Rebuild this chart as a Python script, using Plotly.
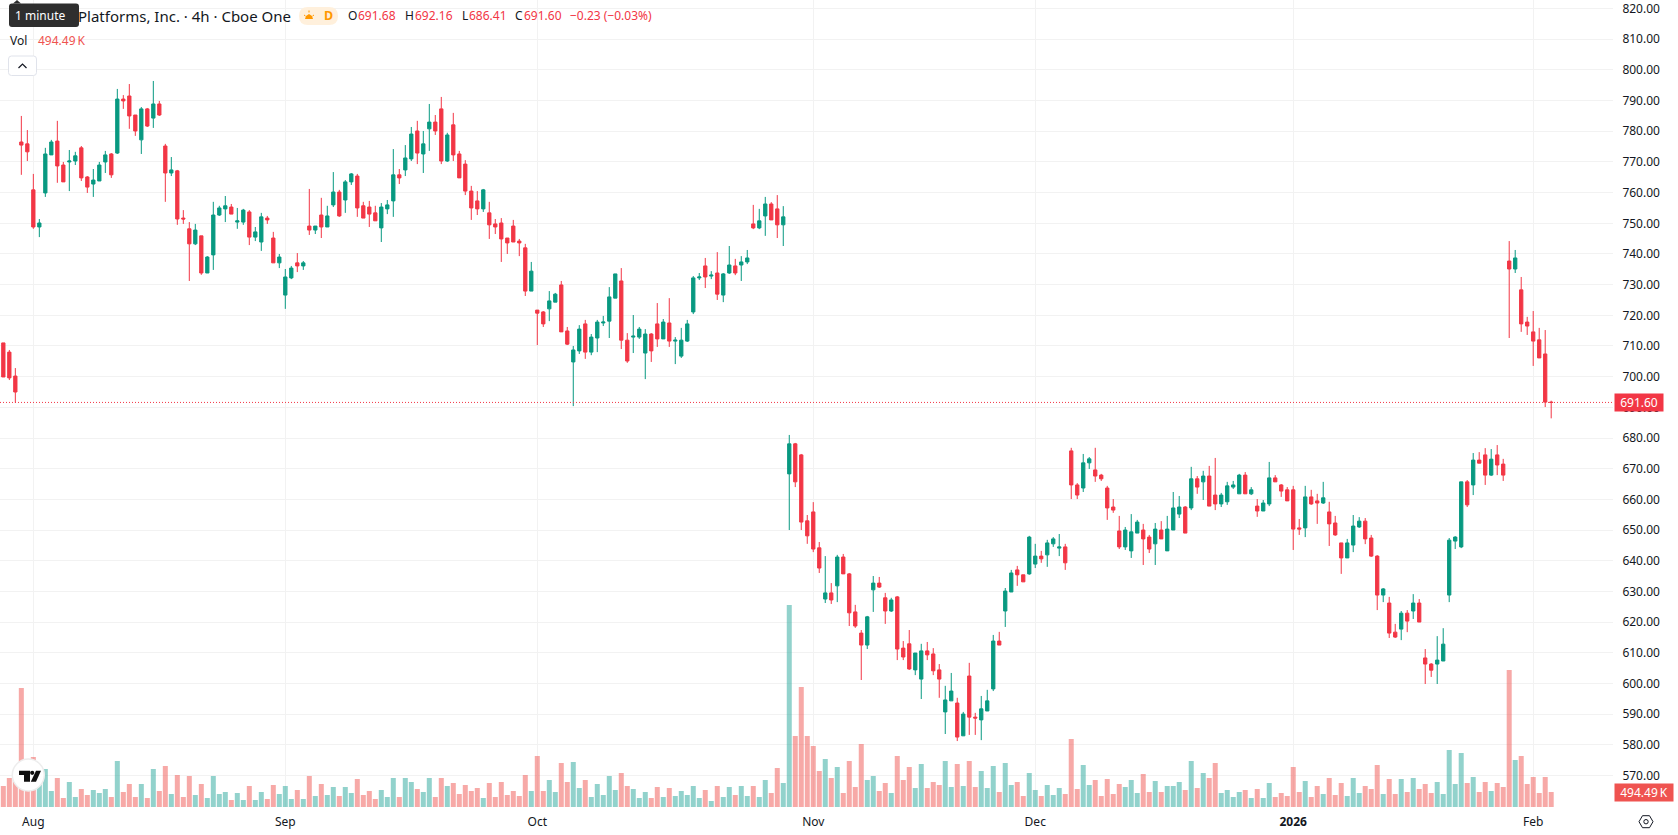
import plotly.graph_objects as go

# Candle direction per session block: R = falling bar, G = rising bar
SIDES = "".join([
    "RRRRRRGGGR", "RGGRRGGGRG", "RRRGRGRRGR", "RRGRGGGGRG", "GRGGRRGGGR",
    "GRGRGGRGGR", "RRRGGGRGGR", "GGRRGRRRRR", "GRRRRRRRGR", "RGGRRGGRGG",
    "GGGRRGGGRR", "GRGGGGGRGR", "GGRGGRGGRR", "GGRRRRRGRG", "RRRRGGRRGR",
    "RRGGRRRGGR", "GRRGGGRGGR", "RGGRGGGRRR", "GGRRRRRGGG", "RRGRGGGRGR",
    "GRRGGGGRGR", "GGRRRRRGRR", "GRRRGGGRRR", "GRRGRGRRRG", "GGGGRGRRGR",
    "RRGRRRRRR",
])

HIGHS = [
    711.0, 708.7, 702.8, 785.0, 780.4, 766.1, 751.4, 774.6, 777.2, 783.4,
    770.0, 773.9, 773.3, 775.2, 765.4, 767.7, 770.0, 773.6, 772.9, 793.8,
    791.8, 795.4, 785.3, 787.9, 787.6, 796.4, 789.9, 775.9, 771.6, 767.4,
    754.3, 750.4, 749.8, 745.9, 739.3, 757.0, 755.7, 758.9, 756.3, 755.0,
    754.7, 754.3, 748.8, 753.4, 752.4, 747.2, 740.0, 735.1, 736.1, 740.3,
    737.7, 761.2, 749.1, 758.3, 755.7, 766.7, 760.9, 764.1, 766.4, 766.1,
    757.0, 757.3, 755.7, 756.6, 757.6, 774.2, 767.7, 775.5, 781.4, 783.4,
    780.1, 788.9, 785.3, 791.2, 779.5, 786.0, 773.6, 770.6, 762.2, 760.5,
    761.2, 757.0, 751.4, 751.7, 745.2, 751.1, 744.9, 743.3, 737.4, 721.7,
    721.4, 727.9, 727.3, 731.2, 716.2, 710.0, 716.8, 718.5, 713.9, 718.5,
    719.8, 729.2, 733.5, 735.4, 714.2, 720.1, 716.2, 715.5, 714.2, 724.0,
    718.8, 725.6, 712.9, 715.9, 718.5, 732.8, 733.8, 738.7, 734.4, 740.6,
    733.8, 742.6, 738.4, 739.3, 741.3, 756.0, 754.7, 758.6, 756.9, 759.2,
    755.6, 681.0, 678.4, 674.8, 654.9, 659.1, 646.1, 641.5, 632.7, 641.9,
    642.2, 636.0, 625.6, 617.4, 622.0, 635.0, 634.7, 629.5, 627.9, 628.5,
    613.8, 617.4, 609.9, 612.9, 613.5, 611.5, 606.3, 599.2, 603.4, 595.3,
    590.7, 606.7, 590.4, 595.9, 597.9, 615.8, 616.8, 631.1, 637.0, 638.3,
    635.4, 648.1, 645.5, 643.2, 646.8, 647.7, 648.7, 645.5, 676.8, 665.3,
    674.8, 673.8, 676.8, 668.3, 664.4, 660.1, 654.6, 651.0, 655.2, 653.3,
    652.0, 648.4, 652.3, 652.9, 654.6, 662.4, 661.1, 657.8, 670.6, 667.6,
    669.3, 670.9, 673.5, 662.1, 665.7, 666.0, 668.3, 668.9, 664.0, 660.1,
    659.8, 672.2, 667.9, 665.0, 664.0, 664.4, 653.6, 664.4, 663.1, 661.8,
    665.7, 659.2, 654.6, 645.8, 647.1, 654.9, 654.2, 653.9, 648.4, 641.8,
    631.1, 628.2, 619.4, 623.6, 623.9, 629.1, 627.5, 611.2, 606.6, 615.4,
    618.0, 647.4, 648.0, 665.7, 666.3, 675.1, 675.4, 676.7, 676.4, 677.7,
    673.2, 744.2, 741.3, 732.5, 719.5, 721.4, 715.9, 715.2, 692.16,
]

# Upper edge of each candle body
BODY_TOPS = [
    711.0, 708.0, 700.2, 776.5, 775.9, 760.9, 750.1, 772.6, 776.5, 776.8,
    769.0, 770.3, 772.0, 774.6, 765.1, 764.1, 769.0, 772.3, 772.6, 790.5,
    790.5, 791.5, 785.3, 787.3, 787.3, 788.9, 788.9, 775.2, 767.4, 767.1,
    751.7, 748.2, 747.8, 745.9, 739.0, 752.7, 755.0, 755.7, 755.3, 750.8,
    754.3, 753.7, 747.2, 752.1, 751.7, 745.2, 739.0, 732.5, 735.4, 737.1,
    737.1, 749.1, 749.1, 752.7, 752.4, 760.2, 760.2, 763.5, 766.1, 765.4,
    755.7, 755.3, 753.4, 755.3, 756.0, 765.8, 765.8, 771.3, 779.1, 780.1,
    775.9, 783.0, 783.0, 787.3, 778.8, 782.1, 772.6, 769.3, 760.5, 757.3,
    760.9, 753.4, 749.8, 750.1, 745.2, 749.1, 744.2, 742.0, 734.4, 721.7,
    721.1, 724.7, 726.9, 729.9, 714.9, 708.7, 715.5, 717.2, 712.9, 717.8,
    717.8, 726.0, 733.5, 731.2, 711.9, 713.2, 715.5, 713.9, 713.9, 717.2,
    717.8, 717.5, 711.9, 711.9, 717.2, 732.2, 732.5, 736.1, 733.1, 733.8,
    733.5, 736.4, 736.1, 737.4, 738.7, 749.8, 750.8, 756.3, 756.3, 754.7,
    752.1, 678.1, 678.1, 674.5, 653.0, 655.9, 644.2, 629.5, 629.5, 641.2,
    641.2, 635.7, 623.3, 616.4, 621.7, 632.7, 632.7, 627.9, 627.2, 628.2,
    611.5, 612.9, 609.9, 610.6, 610.6, 609.6, 604.4, 594.6, 597.5, 593.6,
    590.0, 602.4, 589.0, 591.7, 594.3, 613.8, 613.8, 630.1, 636.0, 637.0,
    635.4, 647.7, 641.5, 641.5, 645.8, 647.1, 644.5, 644.5, 675.8, 664.7,
    671.9, 673.2, 669.6, 667.9, 663.7, 657.5, 649.7, 650.0, 649.4, 652.6,
    650.0, 647.7, 650.3, 650.0, 650.3, 657.2, 657.5, 657.5, 666.7, 666.7,
    667.6, 667.6, 661.4, 661.4, 664.4, 664.7, 667.9, 667.9, 663.1, 657.8,
    658.8, 667.0, 667.0, 664.7, 663.1, 663.1, 650.7, 660.8, 660.8, 659.5,
    660.5, 655.9, 652.3, 645.8, 645.8, 651.3, 652.9, 652.9, 647.4, 641.5,
    630.8, 626.2, 616.7, 622.9, 622.9, 626.2, 626.2, 608.3, 606.3, 607.6,
    612.8, 646.7, 647.7, 665.7, 665.7, 672.8, 672.8, 674.5, 673.1, 674.5,
    671.5, 737.7, 738.7, 728.3, 717.8, 714.6, 712.0, 707.4, 691.68,
]

# Lower edge of each candle body
BODY_BOTTOMS = [
    699.9, 699.6, 695.0, 775.5, 773.3, 748.8, 748.8, 759.9, 772.3, 768.7,
    763.5, 770.0, 770.3, 764.8, 761.8, 762.8, 763.8, 770.0, 765.8, 772.9,
    789.9, 785.0, 780.1, 777.2, 781.7, 784.3, 785.3, 766.4, 766.4, 751.4,
    751.4, 743.3, 743.3, 733.8, 733.8, 739.7, 752.7, 754.7, 753.0, 750.4,
    750.4, 745.5, 745.5, 743.9, 751.1, 737.1, 737.1, 726.6, 732.2, 736.1,
    736.1, 747.8, 747.8, 748.8, 748.8, 756.0, 752.4, 757.6, 763.5, 755.0,
    751.7, 753.0, 750.8, 748.5, 754.7, 757.3, 764.8, 767.4, 771.0, 772.9,
    772.6, 780.8, 780.1, 770.3, 770.3, 772.3, 764.8, 760.5, 755.0, 754.7,
    754.7, 749.5, 748.8, 744.9, 743.6, 743.9, 743.6, 727.9, 727.9, 720.7,
    717.2, 722.1, 724.3, 714.6, 710.6, 704.8, 708.4, 708.0, 708.0, 712.6,
    717.5, 718.1, 725.6, 711.9, 705.1, 712.9, 712.9, 707.7, 708.4, 712.3,
    712.3, 711.6, 711.6, 706.7, 711.6, 721.1, 732.2, 732.5, 732.8, 726.9,
    726.6, 733.8, 733.8, 736.4, 737.4, 748.5, 748.5, 752.4, 751.1, 749.5,
    749.5, 668.3, 665.7, 652.6, 648.1, 643.8, 637.6, 627.5, 627.2, 631.8,
    635.7, 623.0, 618.7, 612.5, 612.5, 630.5, 631.4, 623.6, 623.6, 611.2,
    608.6, 604.7, 604.4, 601.4, 609.3, 604.1, 601.4, 590.7, 594.3, 582.5,
    582.9, 589.0, 588.7, 588.1, 591.0, 598.2, 612.5, 623.6, 629.8, 635.4,
    633.1, 635.7, 638.9, 640.6, 641.9, 645.5, 644.1, 639.3, 664.7, 661.4,
    663.7, 671.9, 667.6, 666.7, 657.2, 656.5, 644.5, 644.5, 643.2, 649.0,
    647.1, 643.8, 645.5, 647.1, 643.2, 650.0, 655.2, 649.0, 657.2, 664.0,
    665.7, 657.8, 658.5, 658.5, 659.2, 664.0, 661.8, 661.8, 661.8, 656.2,
    656.2, 658.5, 665.7, 662.7, 659.5, 650.3, 650.3, 650.7, 658.5, 658.8,
    658.8, 652.0, 648.4, 640.9, 640.9, 645.1, 651.0, 647.1, 641.5, 628.8,
    628.8, 616.4, 615.1, 617.7, 620.3, 623.6, 620.0, 606.3, 604.3, 606.3,
    607.3, 628.8, 646.4, 644.5, 658.2, 664.7, 671.8, 667.9, 667.9, 671.2,
    667.9, 735.1, 735.1, 717.2, 716.5, 711.6, 706.1, 691.7, 691.60,
]

LOWS = [
    699.9, 698.9, 691.5, 765.8, 770.3, 748.2, 745.5, 758.6, 772.3, 763.2,
    763.5, 760.5, 769.0, 763.8, 759.9, 758.6, 763.8, 766.4, 764.8, 772.6,
    787.3, 780.8, 778.5, 772.6, 781.4, 781.1, 785.0, 757.0, 765.4, 749.5,
    749.8, 731.2, 742.9, 733.2, 733.8, 734.8, 752.4, 750.4, 753.0, 748.2,
    749.5, 742.9, 744.2, 741.0, 749.8, 737.1, 735.4, 722.1, 731.8, 734.1,
    734.8, 746.2, 746.5, 745.2, 748.8, 755.3, 752.1, 753.4, 762.5, 752.1,
    751.7, 748.8, 750.8, 743.9, 753.0, 752.1, 762.8, 765.4, 770.3, 769.3,
    766.4, 773.6, 778.8, 769.3, 770.0, 770.3, 764.8, 759.2, 751.1, 752.7,
    753.7, 744.9, 746.5, 737.4, 740.0, 743.9, 739.3, 726.3, 727.9, 710.3,
    716.2, 718.1, 724.3, 714.6, 710.3, 690.4, 707.4, 705.8, 707.0, 708.0,
    716.5, 712.6, 725.6, 709.0, 704.5, 707.7, 712.3, 699.2, 704.8, 709.7,
    712.3, 709.7, 704.1, 706.1, 711.3, 720.4, 731.5, 728.9, 731.8, 725.0,
    724.3, 733.5, 733.1, 731.2, 736.7, 748.1, 748.1, 745.9, 751.1, 745.2,
    742.6, 650.0, 664.0, 650.0, 645.5, 642.8, 636.0, 626.2, 625.9, 626.5,
    635.7, 618.7, 618.1, 601.1, 611.2, 623.3, 631.1, 619.4, 623.3, 607.6,
    607.6, 604.4, 602.7, 594.9, 607.6, 602.7, 595.3, 583.5, 594.3, 581.2,
    582.9, 583.2, 583.2, 581.5, 591.0, 597.5, 612.5, 618.4, 629.8, 631.8,
    633.1, 635.4, 637.6, 639.3, 638.0, 644.5, 641.5, 637.0, 660.1, 660.1,
    662.4, 669.9, 665.7, 666.0, 653.3, 655.6, 643.8, 643.5, 640.9, 649.0,
    638.6, 642.5, 638.6, 647.1, 643.2, 650.0, 653.9, 649.0, 656.5, 661.8,
    659.8, 657.8, 656.5, 657.5, 658.2, 663.4, 661.8, 661.8, 661.4, 654.3,
    656.2, 657.8, 665.7, 660.8, 659.5, 643.5, 648.4, 647.7, 658.2, 652.0,
    658.5, 644.8, 648.1, 635.7, 640.9, 642.8, 650.7, 645.4, 641.2, 623.9,
    626.5, 614.8, 614.8, 614.1, 616.7, 621.0, 620.0, 599.8, 602.1, 599.8,
    607.3, 626.5, 643.8, 644.1, 657.5, 661.4, 671.8, 664.7, 667.6, 667.9,
    666.0, 712.6, 733.8, 714.6, 713.6, 703.5, 706.1, 690.1, 686.41,
]

# Traded volume per bar, in thousands of shares
VOLUMES = [
    693, 957, 891, 3927, 561, 1650, 891, 1254, 528, 957,
    297, 825, 330, 594, 396, 561, 462, 594, 330, 1518,
    495, 759, 330, 759, 297, 1254, 528, 1353, 429, 1056,
    330, 1023, 396, 759, 297, 1023, 429, 495, 231, 462,
    231, 693, 231, 495, 264, 726, 429, 693, 264, 561,
    264, 1023, 363, 759, 396, 660, 363, 660, 462, 924,
    396, 528, 264, 561, 330, 957, 330, 957, 825, 594,
    495, 957, 330, 957, 693, 792, 429, 726, 528, 627,
    297, 792, 330, 825, 396, 528, 363, 1056, 528, 1683,
    528, 891, 495, 1452, 825, 1485, 627, 891, 330, 759,
    396, 1023, 561, 1122, 693, 594, 297, 495, 297, 660,
    330, 627, 363, 528, 396, 693, 297, 561, 198, 693,
    330, 660, 396, 693, 363, 693, 330, 891, 462, 1287,
    792, 6666, 2343, 3960, 2343, 2013, 1188, 1584, 957, 1320,
    462, 1518, 660, 2079, 891, 1023, 528, 792, 462, 1683,
    891, 1320, 627, 1419, 627, 825, 726, 1518, 660, 1419,
    693, 1518, 660, 1188, 627, 1353, 495, 1452, 726, 825,
    363, 1122, 561, 363, 726, 396, 627, 429, 2244, 594,
    1386, 726, 891, 363, 924, 429, 759, 660, 891, 462,
    1089, 495, 858, 495, 693, 693, 825, 561, 1518, 627,
    1122, 957, 1452, 462, 561, 330, 495, 561, 297, 594,
    297, 792, 330, 462, 363, 1320, 495, 858, 330, 693,
    429, 957, 396, 792, 363, 957, 462, 693, 594, 1386,
    429, 924, 429, 924, 495, 957, 594, 759, 462, 825,
    429, 1881, 759, 1782, 792, 990, 495, 825, 528, 792,
    660, 4521, 1551, 1683, 759, 990, 462, 990, 494.49,
]

TICK_POSITIONS = [5, 47, 89, 135, 172, 215, 255]
TICK_LABELS = ["Aug", "Sep", "Oct", "Nov", "Dec", "<b>2026</b>", "Feb"]
PRICE_TICKS = list(range(570, 830, 10))
LAST_PRICE = 691.60

UP = "#089981"
DOWN = "#F23645"
UP_VOL = "rgba(38,166,154,0.5)"
DOWN_VOL = "rgba(239,83,80,0.5)"
GRID = "#F2F2F2"
INK = "#131722"
FONT = "Noto Sans"

WIDTH, HEIGHT = 1678, 835
PANE_W, PANE_H = 1613, 807

assert len(SIDES) == len(HIGHS) == len(BODY_TOPS) == len(BODY_BOTTOMS) == len(LOWS) == len(VOLUMES)

index = list(range(len(SIDES)))
opens = [t if s == "R" else b for s, t, b in zip(SIDES, BODY_TOPS, BODY_BOTTOMS)]
closes = [b if s == "R" else t for s, t, b in zip(SIDES, BODY_TOPS, BODY_BOTTOMS)]
vol_colors = [DOWN_VOL if s == "R" else UP_VOL for s in SIDES]


def fx(x):
    return x / PANE_W


def fy(y):
    return 1 - y / PANE_H


def round_rect(x0, y0, x1, y1, r):
    a, b, c, d = fx(x0), fx(x1), fy(y0), fy(y1)
    rx, ry = r / PANE_W, r / PANE_H
    return (f"M{a+rx},{c} L{b-rx},{c} Q{b},{c} {b},{c-ry} L{b},{d+ry} Q{b},{d} {b-rx},{d} "
            f"L{a+rx},{d} Q{a},{d} {a},{d+ry} L{a},{c-ry} Q{a},{c} {a+rx},{c} Z")


def poly(points):
    return "M" + " L".join(f"{fx(x)},{fy(y)}" for x, y in points) + " Z"


def line(points):
    return "M" + " L".join(f"{fx(x)},{fy(y)}" for x, y in points)


def shape_path(path, fill="rgba(0,0,0,0)", stroke=None, width=0):
    return dict(type="path", xref="paper", yref="paper", path=path, fillcolor=fill,
                line=dict(color=stroke or "rgba(0,0,0,0)", width=width), layer="above")


def circle(cx, cy, r, fill, stroke=None, width=0):
    return dict(type="circle", xref="paper", yref="paper",
                x0=fx(cx - r), x1=fx(cx + r), y0=fy(cy + r), y1=fy(cy - r),
                fillcolor=fill, line=dict(color=stroke or "rgba(0,0,0,0)", width=width), layer="above")


def label(x, y, text, size=12.5, color=INK, anchor="left", **kw):
    return dict(xref="paper", yref="paper", x=fx(x), y=fy(y), text=text, showarrow=False,
                xanchor=anchor, yanchor="middle", font=dict(family=FONT, size=size, color=color),
                borderpad=0, **kw)


fig = go.Figure()
fig.add_trace(go.Candlestick(
    x=index, open=opens, high=HIGHS, low=LOWS, close=closes, yaxis="y",
    increasing=dict(line=dict(color=UP, width=1), fillcolor=UP),
    decreasing=dict(line=dict(color=DOWN, width=1), fillcolor=DOWN),
    whiskerwidth=0, hoverinfo="skip", showlegend=False,
))
fig.add_trace(go.Bar(
    x=index, y=VOLUMES, yaxis="y2", marker=dict(color=vol_colors, line=dict(width=0)),
    hoverinfo="skip", showlegend=False,
))

shapes = [
    # dotted last-price line
    dict(type="line", xref="paper", yref="y", x0=0, x1=1, y0=LAST_PRICE, y1=LAST_PRICE,
         line=dict(color=DOWN, width=1, dash="1px,2px"), layer="above"),
    # interval tooltip
    shape_path(round_rect(9, 3.5, 79, 27, 3), fill="#2E2E2E"),
    shape_path(poly([(13, 3.5), (17, 0), (21, 3.5)]), fill="#2E2E2E"),
    # market status badge
    shape_path(round_rect(299, 7, 338, 25, 9), fill="#FFF0DC"),
    shape_path(poly([(305, 19), (313, 19), (312, 16), (309, 14), (306, 16)]), fill="#FF9800"),
    shape_path(line([(304, 15), (305.5, 16)]), stroke="#FF9800", width=1),
    shape_path(line([(314, 15), (312.5, 16)]), stroke="#FF9800", width=1),
    shape_path(line([(309, 10.5), (309, 12.5)]), stroke="#FF9800", width=1),
    # collapse button
    shape_path(round_rect(8.5, 56, 36.5, 75.5, 3), fill="#FFFFFF", stroke="#E0E3EB", width=1),
    shape_path(line([(18.5, 68), (22.5, 64), (26.5, 68)]), stroke=INK, width=1.2),
    # logo badge
    circle(28.3, 775, 16, "#FFFFFF", "#EDEDED", 1.5),
    shape_path(poly([(19, 770.7), (30, 770.7), (30, 781.7), (24, 781.7), (24, 775), (19, 775)]), fill="#0F0F0F"),
    circle(32.2, 772.8, 2.1, "#0F0F0F"),
    shape_path(poly([(36, 770.7), (41, 770.7), (36, 781.7), (30.8, 781.7)]), fill="#0F0F0F"),
    # settings icon
    shape_path(poly([(1639, 821.7), (1642.5, 815.7), (1649.5, 815.7), (1653, 821.7),
                     (1649.5, 827.7), (1642.5, 827.7)]), stroke=INK, width=1),
    circle(1646, 821.7, 2.2, "rgba(0,0,0,0)", INK, 1),
]

annotations = [
    label(14, 15.5, "1 minute", size=12, color="#FFFFFF"),
    label(77, 16, "Platforms, Inc. · 4h · Cboe One", size=15),
    label(323, 16, "<b>D</b>", size=12.5, color="#FF9800"),
    label(347, 16, "O", size=12),
    label(357, 16, "691.68", size=12, color=DOWN),
    label(404, 16, "H", size=12),
    label(414, 16, "692.16", size=12, color=DOWN),
    label(460.5, 16, "L", size=12),
    label(468, 16, "686.41", size=12, color=DOWN),
    label(514, 16, "C", size=12),
    label(523, 16, "691.60", size=12, color=DOWN),
    label(569, 16, "−0.23 (−0.03%)", size=12, color=DOWN),
    label(9, 40.5, "Vol", size=12),
    label(36.5, 40.5, "494.49\u2009K", size=12, color=DOWN_VOL.replace("0.5)", "1)")),
    label(1639, 402.3, "691.60", size=12, color="#FFFFFF", anchor="center",
          bgcolor=DOWN, width=48, height=17),
    label(1644, 792.5, "494.49\u2009K", size=12, color="#FFFFFF", anchor="center",
          bgcolor="#EF5350", width=58, height=17),
]

fig.update_layout(
    width=WIDTH, height=HEIGHT, autosize=False,
    margin=dict(l=0, r=WIDTH - PANE_W, t=0, b=HEIGHT - PANE_H, pad=0),
    paper_bgcolor="#FFFFFF", plot_bgcolor="#FFFFFF",
    font=dict(family=FONT, size=12, color=INK),
    boxgap=0.22, bargap=1 / 6,
    showlegend=False, hovermode=False,
    xaxis=dict(
        range=[-0.555, 268.3], rangeslider=dict(visible=False),
        tickmode="array", tickvals=TICK_POSITIONS, ticktext=TICK_LABELS,
        showgrid=True, gridcolor=GRID, gridwidth=1, zeroline=False, showline=False,
        ticks="outside", ticklen=4, tickcolor="rgba(0,0,0,0)", tickfont=dict(size=12, color=INK),
    ),
    yaxis=dict(
        range=[559.7, 822.8], side="right", tickmode="array", tickvals=PRICE_TICKS,
        tickformat=".2f", showgrid=True, gridcolor=GRID, gridwidth=1, zeroline=False,
        showline=False, ticks="outside", ticklen=6, tickcolor="rgba(0,0,0,0)",
        tickfont=dict(size=12, color=INK), ticklabeloverflow="allow",
    ),
    yaxis2=dict(
        range=[0, 26631], overlaying="y", side="left", visible=False, showgrid=False,
    ),
    shapes=shapes, annotations=annotations,
)

fig.write_html("out.html", config=dict(displayModeBar=False))
